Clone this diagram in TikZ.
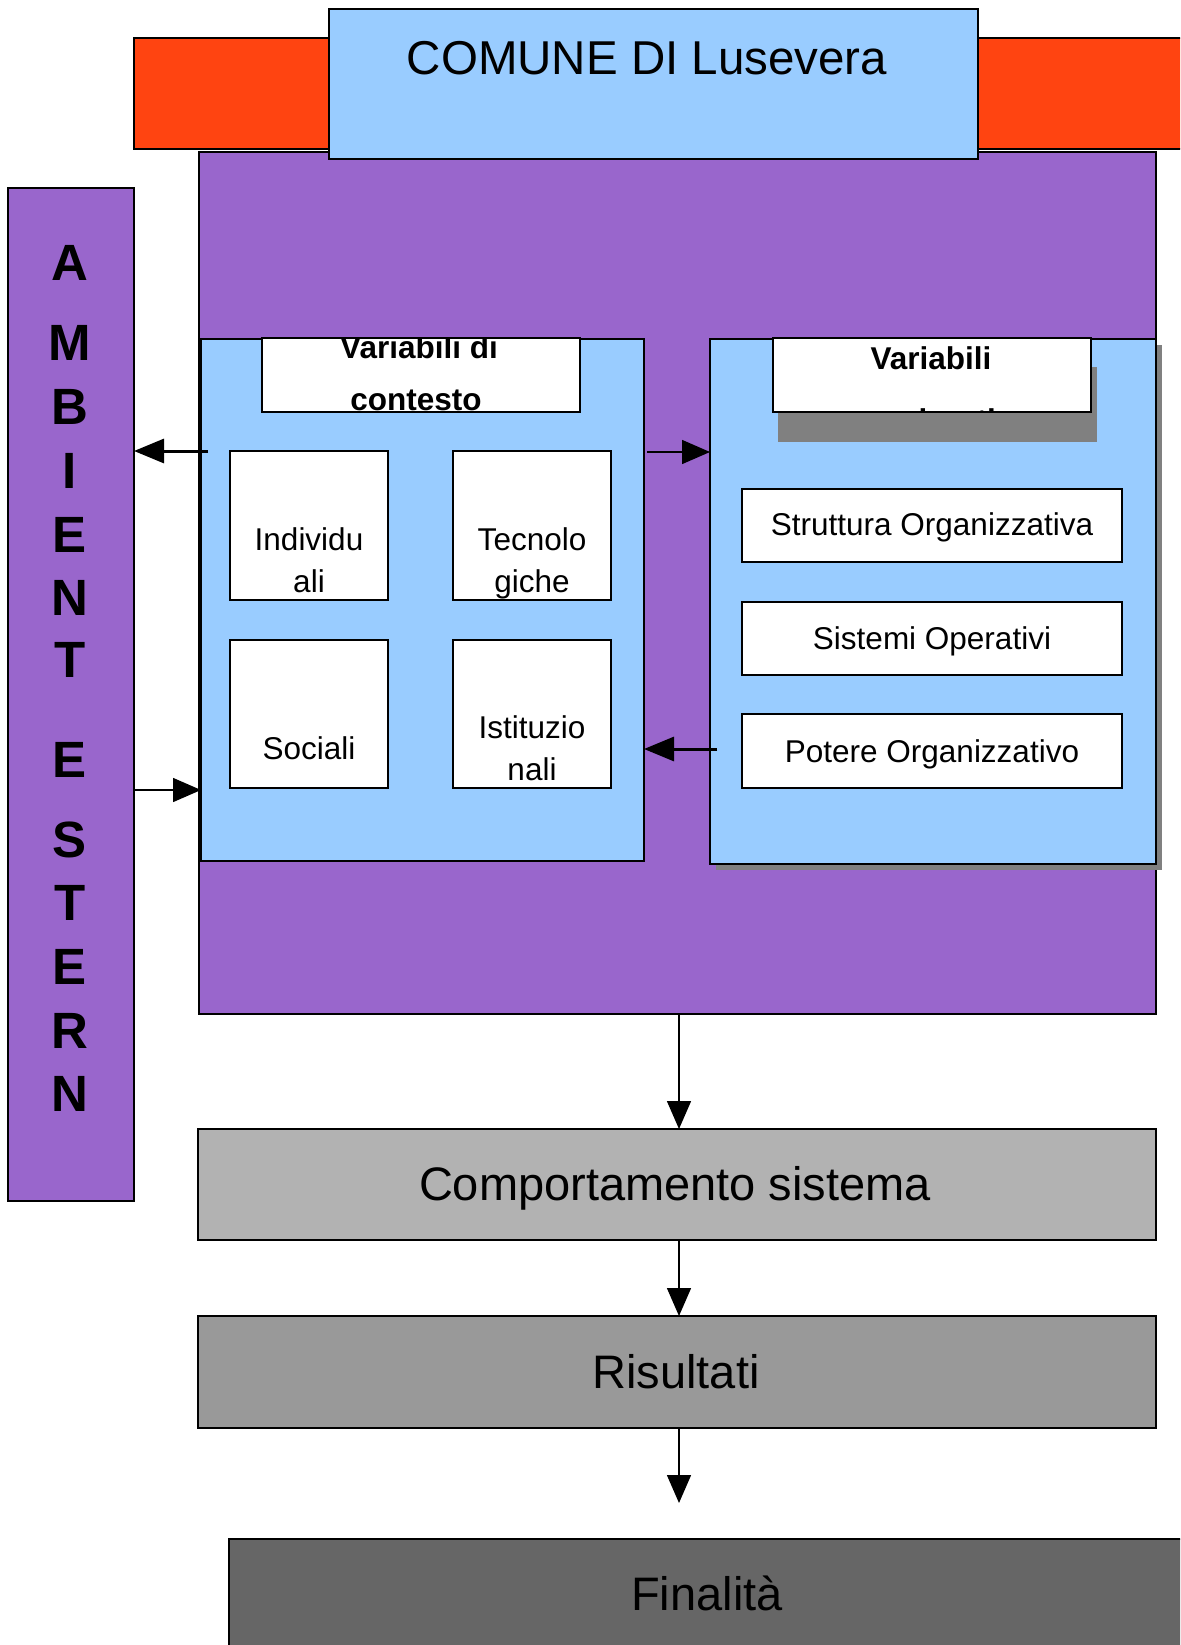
\documentclass[tikz,border=0pt]{standalone}
\usepackage{fontspec}
\setmainfont{Liberation Sans}
\usetikzlibrary{arrows.meta}
\definecolor{cpurple}{HTML}{9966CC}
\definecolor{cblue}{HTML}{99CCFF}
\definecolor{cred}{HTML}{FF4411}
\definecolor{cgreyA}{HTML}{B2B2B2}
\definecolor{cgreyB}{HTML}{999999}
\definecolor{cgreyC}{HTML}{666666}
\definecolor{cshadow}{HTML}{808080}
\begin{document}
\begin{tikzpicture}[x=1pt,y=-1pt,
  rbox/.style={draw=black, line width=1.5pt, inner sep=0pt, outer sep=0pt, anchor=north west},
  txt/.style={anchor=base, inner sep=0pt, font=\fontsize{31.5}{38}\selectfont},
  btxt/.style={anchor=base, inner sep=0pt, font=\bfseries\fontsize{31.5}{38}\selectfont},
  bigtxt/.style={anchor=base, inner sep=0pt, font=\fontsize{47.5}{52}\selectfont},
  midtxt/.style={anchor=base, inner sep=0pt, font=\fontsize{47}{52}\selectfont},
  lettr/.style={anchor=base, inner sep=0pt, font=\bfseries\fontsize{51}{54}\selectfont},
  thinarrow/.style={line width=1.5pt, -{Triangle[length=28pt,width=24pt]}},
  thickarrow/.style={line width=3pt, -{Triangle[length=30pt,width=24pt]}}]
\clip (0,0) rectangle (1180,1645);
\fill[white] (0,0) rectangle (1180,1645);

% main purple box and red band
\node[rbox, fill=cpurple, minimum width=957pt, minimum height=862pt] (main) at (199,152) {};
\node[rbox, fill=cred, minimum width=1060pt, minimum height=111pt] (band) at (134,38) {};
\node[rbox, fill=cblue, minimum width=649pt, minimum height=150pt] (title) at (329,9) {};
\node[bigtxt] (titletxt) at (647,75) {COMUNE DI Lusevera};

% left column
\node[rbox, fill=cpurple, minimum width=126pt, minimum height=1013pt] (amb) at (8,188) {};
\node[lettr] (l1) at (70,280) {A};
\node[lettr] (l2) at (70,360) {M};
\node[lettr] (l3) at (70,424) {B};
\node[lettr] (l4) at (70,488) {I};
\node[lettr] (l5) at (70,552) {E};
\node[lettr] (l6) at (70,615) {N};
\node[lettr] (l7) at (70,677) {T};
\node[lettr] (l8) at (70,777) {E};
\node[lettr] (l9) at (70,857) {S};
\node[lettr] (l10) at (70,920) {T};
\node[lettr] (l11) at (70,984) {E};
\node[lettr] (l12) at (70,1048) {R};
\node[lettr] (l13) at (70,1111) {N};

% left inner box
\node[rbox, fill=cblue, minimum width=443pt, minimum height=522pt] (ctx) at (201,339) {};
\node[rbox, fill=white, minimum width=318pt, minimum height=74pt] (lhead) at (262,338) {};
\begin{scope}
  \clip (lhead.south west) rectangle (lhead.north east);
  \node[btxt] (lh1) at (419,358) {Variabili di};
  \node[btxt] (lh2) at (416,410) {contesto};
\end{scope}
\draw[line width=1.5pt] (lhead.south west) rectangle (lhead.north east);

\node[rbox, fill=white, minimum width=158pt, minimum height=149pt] (indiv) at (230,451) {};
\node[rbox, fill=white, minimum width=158pt, minimum height=149pt] (tecno) at (453,451) {};
\node[rbox, fill=white, minimum width=158pt, minimum height=148pt] (soc) at (230,640) {};
\node[rbox, fill=white, minimum width=158pt, minimum height=148pt] (ist) at (453,640) {};
\node[txt] (t1a) at (309,550) {Individu};
\node[txt] (t1b) at (309,592) {ali};
\node[txt] (t2a) at (532,550) {Tecnolo};
\node[txt] (t2b) at (532,592) {giche};
\node[txt] (t3) at (309,759) {Sociali};
\node[txt] (t4a) at (532,738) {Istituzio};
\node[txt] (t4b) at (532,780) {nali};

% right inner box
\fill[cshadow] (716,345) rectangle (1162,870);
\node[rbox, fill=cblue, minimum width=446pt, minimum height=525pt] (org) at (710,339) {};
\fill[cshadow] (778,367) rectangle (1097,442);
\node[rbox, fill=white, minimum width=318pt, minimum height=74pt] (rhead) at (773,338) {};
\begin{scope}
  \clip (rhead.south west) rectangle (rhead.north east);
  \node[btxt] (rh1) at (931,369) {Variabili};
  \node[btxt] (rh2) at (931,431) {organizzative};
\end{scope}
\draw[line width=1.5pt] (rhead.south west) rectangle (rhead.north east);

\node[rbox, fill=white, minimum width=380pt, minimum height=73pt] (strut) at (742,489) {};
\node[rbox, fill=white, minimum width=380pt, minimum height=73pt] (sist) at (742,602) {};
\node[rbox, fill=white, minimum width=380pt, minimum height=74pt] (pot) at (742,714) {};
\node[txt] (s1) at (932,535) {Struttura Organizzativa};
\node[txt] (s2) at (932,649) {Sistemi Operativi};
\node[txt] (s3) at (932,762) {Potere Organizzativo};

% bottom boxes
\node[rbox, fill=cgreyA, minimum width=958pt, minimum height=111pt] (comp) at (198,1129) {};
\node[midtxt] (comptxt) at (675,1200) {Comportamento sistema};
\node[rbox, fill=cgreyB, minimum width=958pt, minimum height=112pt] (ris) at (198,1316) {};
\node[midtxt] (ristxt) at (676,1388) {Risultati};
\node[rbox, fill=cgreyC, minimum width=970pt, minimum height=130pt] (fin) at (229,1539) {};
\node[midtxt] (fintxt) at (707,1610) {Finalità};

% connectors
\coordinate (a1s) at (208,451);
\coordinate (a2s) at (647,452);
\coordinate (a3y) at (0,790);
\coordinate (a4s) at (717,749);
\coordinate (dx) at (679,0);
\coordinate (endc) at (679,1503);
\draw[thickarrow] (a1s) -- (amb.east |- a1s);
\draw[thinarrow] (a2s) -- (org.west |- a2s);
\draw[thinarrow] (amb.east |- a3y) -- (ctx.west |- a3y);
\draw[thickarrow] (a4s) -- (ctx.east |- a4s);
\draw[thinarrow] (main.south -| dx) -- (comp.north -| dx);
\draw[thinarrow] (comp.south -| dx) -- (ris.north -| dx);
\draw[thinarrow] (ris.south -| dx) -- (endc);
\end{tikzpicture}
\end{document}
